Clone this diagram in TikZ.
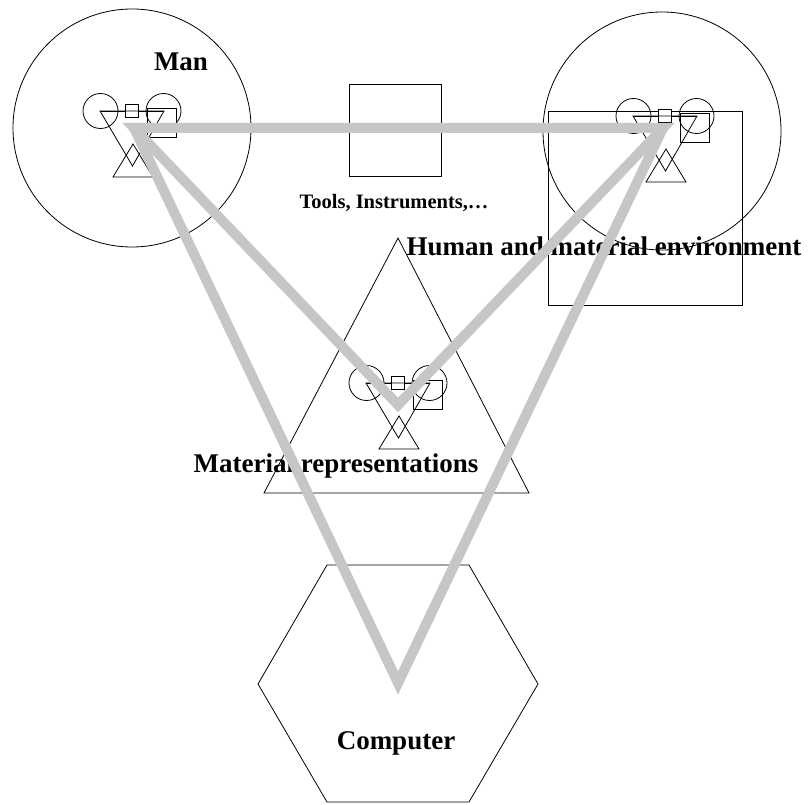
\documentclass[tikz,border=0pt]{standalone}
\usepackage{fontspec}
\setmainfont{Liberation Serif}
\definecolor{linkgray}{RGB}{198,198,198}
\begin{document}
\begin{tikzpicture}[x=1pt,y=-1pt,
  outline/.style={draw=black,line width=0.8pt},
  link/.style={draw=linkgray,line width=10pt,line join=miter,miter limit=10},
  biglabel/.style={font=\bfseries\fontsize{27}{32}\selectfont,anchor=base,inner sep=0pt},
  smalllabel/.style={font=\bfseries\fontsize{20.5}{24}\selectfont,anchor=base,inner sep=0pt},
  icon/.pic={
    \draw[outline] (-31.5,0) circle[radius=17.5];
    \draw[outline] (31.5,0) circle[radius=17.5];
    \draw[outline] (-31.5,0) -- (31.5,0);
    \draw[outline,fill=white] (-6.5,-6.5) rectangle (6.5,6.5);
    \draw[outline] (-32,0) -- (32,0) -- (0.5,55) -- cycle;
    \draw[outline] (1,33) -- (21,66) -- (-19,66) -- cycle;
    \draw[outline] (15,-3) rectangle (44.5,26.5);
  }]
\useasboundingbox (0,0) rectangle (808,805);

% big frames
\draw[outline] (132,128) circle[radius=119];
\draw[outline] (662,131) circle[radius=119];
\draw[outline] (548,111) rectangle (742,305);
\draw[outline] (349,84) rectangle (441,176);
\draw[outline] (398,238) -- (529,493) -- (264,493) -- cycle;
\draw[outline] (258,684) -- (327,565) -- (469,565) -- (538,684) -- (469,802) -- (327,802) -- cycle;

% small icons
\pic at (132,111) {icon};
\pic at (665,116) {icon};
\pic at (398,383) {icon};

% labels
\node[biglabel] (man) at (181,71) {Man};
\node[smalllabel] (tools) at (394,208) {Tools, Instruments,\ldots};
\node[biglabel] (env) at (604,255) {Human and material environment};
\node[biglabel] (rep) at (336,472) {Material representations};
\node[biglabel] (comp) at (396,749) {Computer};

% connection points
\coordinate (pM) at (134,128);
\coordinate (pE) at (663,128);
\coordinate (pT) at (398,405);
\coordinate (pC) at (398,683);

% gray links
\draw[link] (pM) -- (pC) -- (pE);
\draw[link] (pM) -- (pT) -- (pE) -- cycle;
\end{tikzpicture}
\end{document}
